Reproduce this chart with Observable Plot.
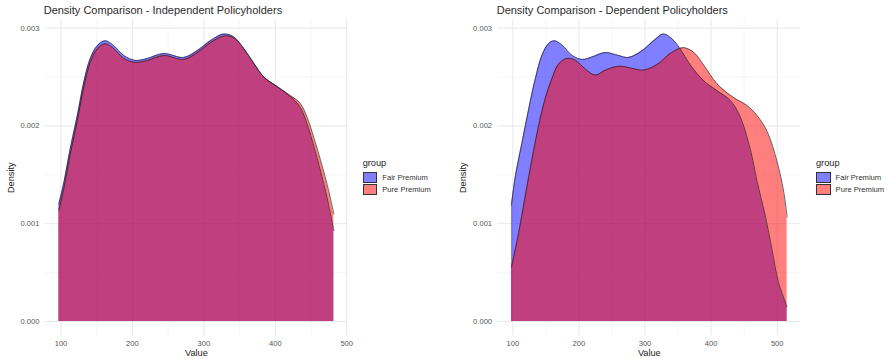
<!DOCTYPE html>
<html>
<head>
<meta charset="utf-8">
<script src="https://cdn.jsdelivr.net/npm/d3@7"></script>
<script src="https://cdn.jsdelivr.net/npm/@observablehq/plot@0.6"></script>
<style>
  body { margin: 0; background: #fff; font-family: "Liberation Sans", Arial, sans-serif; }
  #root { position: relative; width: 891px; height: 359px; overflow: hidden; background: #fff; }
  .svgwrap { position: absolute; top: 0; }
  .title { position: absolute; font-size: 11px; line-height: 11px; color: #2b2b2b; white-space: nowrap; }
  .legend { position: absolute; }
  .legend .lt { font-size: 9.2px; line-height: 9.2px; color: #222; height: 12.6px; }
  .legend .row { display: flex; align-items: center; height: 12px; font-size: 7.6px; color: #333; white-space: nowrap; }
  .legend .key { width: 14.6px; height: 11.4px; border: 0.7px solid #333; box-sizing: border-box; margin-right: 5px; }
  g[aria-label="x-axis label"], g[aria-label="y-axis label"],
  g[aria-label="x-axis label"] text, g[aria-label="y-axis label"] text { font-size: 9.2px; fill: #222; }
</style>
</head>
<body>
<div id="root"></div>
<script>
// ---- data ----
const groups = ["Fair Premium", "Pure Premium"];
const groupColors = ["blue", "red"];
const panelTitles = ["Density Comparison - Independent Policyholders", "Density Comparison - Dependent Policyholders"];
const xTicks = [100, 200, 300, 400, 500];
const xMinorTicks = [150, 250, 350, 450];
const yTicks = [0, 0.001, 0.002, 0.003];
const yMinorTicks = [0.0005, 0.0015, 0.0025];

// Independent policyholders
const indepX = [97, 104, 113, 123, 132, 141, 151, 162, 174, 188, 204, 221, 244, 272, 291, 309, 328, 342, 356, 370, 384, 403, 421, 435, 445, 454, 463, 473, 482];
const indepFair = [0.00120, 0.00142, 0.00177, 0.00211, 0.00245, 0.00269, 0.00282, 0.00287, 0.00282, 0.00272, 0.00267, 0.00269, 0.00274, 0.00270, 0.00277, 0.00287, 0.00294, 0.00291, 0.00279, 0.00264, 0.00250, 0.00240, 0.00230, 0.00219, 0.00201, 0.00179, 0.00155, 0.00125, 0.00093];
const indepPure = [0.00114, 0.00136, 0.00171, 0.00206, 0.00240, 0.00265, 0.00279, 0.00284, 0.00279, 0.00269, 0.00265, 0.00267, 0.00272, 0.00268, 0.00275, 0.00285, 0.00292, 0.00290, 0.00279, 0.00264, 0.00250, 0.00240, 0.00231, 0.00223, 0.00208, 0.00188, 0.00166, 0.00139, 0.00110];

// Dependent policyholders
const depFairX = [98, 104, 114, 124, 134, 144, 154, 163, 174, 190, 205, 222, 240, 260, 275, 296, 313, 328, 341, 353, 369, 389, 409, 429, 443, 459, 470, 482, 492, 502, 515];
const depFair = [0.00119, 0.00149, 0.00183, 0.00217, 0.00248, 0.00272, 0.00284, 0.00287, 0.00283, 0.00272, 0.00268, 0.00271, 0.00275, 0.00272, 0.00270, 0.00277, 0.00287, 0.00294, 0.00289, 0.00279, 0.00262, 0.00246, 0.00236, 0.00226, 0.00211, 0.00177, 0.00142, 0.00108, 0.00074, 0.00040, 0.00015];
const depPureX = [98, 109, 119, 129, 139, 149, 159, 169, 182, 195, 210, 225, 240, 260, 280, 296, 311, 323, 338, 358, 374, 389, 409, 434, 454, 469, 485, 500, 510, 515];
const depPure = [0.000555, 0.00091, 0.00129, 0.00166, 0.00200, 0.00228, 0.00248, 0.00263, 0.00269, 0.00267, 0.00258, 0.00252, 0.00257, 0.00261, 0.00259, 0.00257, 0.00260, 0.00265, 0.00274, 0.00280, 0.00275, 0.00262, 0.00243, 0.00229, 0.00221, 0.00211, 0.00194, 0.00163, 0.00132, 0.00107];

// ---- build ----
function rowsFor(fx, fy, px, py) {
  const rows = [];
  fx.forEach((v, i) => rows.push({group: groups[0], value: v, density: fy[i]}));
  px.forEach((v, i) => rows.push({group: groups[1], value: v, density: py[i]}));
  return rows;
}

function expanded(lo, hi) {
  const e = (hi - lo) * 0.05;
  return [lo - e, hi + e];
}

function makePanel(rows, opts) {
  const xs = rows.map(d => d.value);
  const ys = rows.map(d => d.density);
  return Plot.plot({
    width: opts.width,
    height: 359,
    marginTop: 19.1,
    marginBottom: 23.6,
    marginLeft: opts.marginLeft,
    marginRight: opts.marginRight,
    style: {fontFamily: "Liberation Sans, Arial, sans-serif", background: "transparent", overflow: "visible"},
    x: {domain: expanded(d3.min(xs), d3.max(xs))},
    y: {domain: expanded(0, d3.max(ys))},
    color: {domain: groups, range: groupColors},
    marks: [
      Plot.gridX(xMinorTicks, {stroke: "#f0f0f0", strokeOpacity: 1, strokeWidth: 0.6}),
      Plot.gridY(yMinorTicks, {stroke: "#f0f0f0", strokeOpacity: 1, strokeWidth: 0.6}),
      Plot.gridX(xTicks, {stroke: "#e8e8e8", strokeOpacity: 1, strokeWidth: 1}),
      Plot.gridY(yTicks, {stroke: "#e8e8e8", strokeOpacity: 1, strokeWidth: 1}),
      Plot.areaY(rows, {x: "value", y1: 0, y2: "density", z: "group", fill: "group", fillOpacity: 0.5, curve: "catmull-rom"}),
      Plot.lineY(rows, {x: "value", y: "density", z: "group", stroke: "#1a1a1a", strokeWidth: 0.8, strokeOpacity: 0.85, curve: "catmull-rom"}),
      Plot.axisX(xTicks, {tickSize: 0, tickPadding: 5, fontSize: 7.6, fill: "#555", label: "Value", labelAnchor: "center", labelArrow: "none", labelOffset: 19.6}),
      Plot.axisY(yTicks, {tickSize: 0, tickPadding: 5.6, fontSize: 7.6, fill: "#555", tickFormat: d3.format(".3f"), label: "Density", labelAnchor: "center", labelArrow: "none", labelOffset: opts.marginLeft - 6.7})
    ]
  });
}

const root = document.getElementById("root");

const panels = [
  {rows: rowsFor(indepX, indepFair, indepX, indepPure), left: 0, width: 355, marginLeft: 44.6, marginRight: 7.9, titleLeft: 43.7, legendLeft: 362.7},
  {rows: rowsFor(depFairX, depFair, depPureX, depPure), left: 452, width: 355, marginLeft: 45.2, marginRight: 6.6, titleLeft: 496.7, legendLeft: 816}
];

panels.forEach((p, i) => {
  const wrap = document.createElement("div");
  wrap.className = "svgwrap";
  wrap.style.left = p.left + "px";
  wrap.appendChild(makePanel(p.rows, p));
  root.appendChild(wrap);

  const t = document.createElement("div");
  t.className = "title";
  t.style.left = p.titleLeft + "px";
  t.style.top = "4.7px";
  t.textContent = panelTitles[i];
  root.appendChild(t);

  const lg = document.createElement("div");
  lg.className = "legend";
  lg.style.left = p.legendLeft + "px";
  lg.style.top = "158.9px";
  const lt = document.createElement("div");
  lt.className = "lt";
  lt.textContent = "group";
  lg.appendChild(lt);
  groups.forEach((g, j) => {
    const row = document.createElement("div");
    row.className = "row";
    const key = document.createElement("span");
    key.className = "key";
    key.style.background = d3.color(groupColors[j]).copy({opacity: 0.5}).formatRgb();
    row.appendChild(key);
    row.appendChild(document.createTextNode(g));
    lg.appendChild(row);
  });
  root.appendChild(lg);
});
</script>
</body>
</html>
